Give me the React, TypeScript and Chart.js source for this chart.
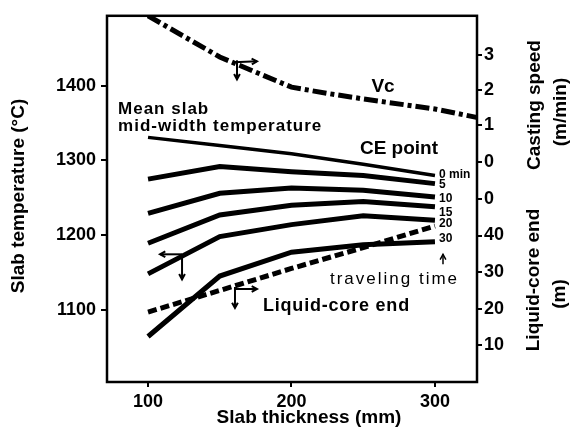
import React, { useEffect, useRef } from "react";
import { Chart, registerables } from "chart.js";

Chart.register(...registerables);

// ---- data ----
const thickness = [100, 150, 200, 250, 300];
const temp0 = [1331, 1320, 1309, 1295, 1280];
const temp5 = [1275, 1292, 1285, 1280, 1269];
const temp10 = [1229, 1256, 1263, 1260, 1251];
const temp15 = [1189, 1227, 1240, 1245, 1238];
const temp20 = [1148, 1198, 1214, 1226, 1220];
const temp30 = [1064, 1145, 1177, 1187, 1191];
const liquidCoreEnd = [19.1, 25, 31, 36.7, 42.6];
const speedThickness = [100, 150, 200, 225, 250, 300, 330];
const castingSpeed = [4.14, 2.95, 2.08, 1.9, 1.74, 1.45, 1.2];

const timeLabels = ["0 min", "5", "10", "15", "20", "30"];
const xTicks = [100, 200, 300];
const tempTicks = [1100, 1200, 1300, 1400];
const lengthTicks = [10, 20, 30, 40, 50, 60];
const lengthTickLabels = ["10", "20", "30", "40", "0", "0"];
const speedTicks = [1, 2, 3];
const speedTickLabels = ["1", "2", "3"];

// ---- axis ranges ----
const X_MIN = 71.4, X_MAX = 329.3;
const T_MIN = 1003, T_MAX = 1494;
const L_MIN = 0, L_MAX = 100;
const S_MIN = -6.43, S_MAX = 4.14;
const speedToLength = (s: number) => L_MIN + ((s - S_MIN) / (S_MAX - S_MIN)) * (L_MAX - L_MIN);

const FONT = "'Liberation Sans', Arial, Helvetica, sans-serif";

const pts = (xs: number[], ys: number[]) => xs.map((x, i) => ({ x, y: ys[i] }));

function arrow(ctx: CanvasRenderingContext2D, x1: number, y1: number, x2: number, y2: number) {
  ctx.beginPath();
  ctx.moveTo(x1, y1);
  ctx.lineTo(x2, y2);
  ctx.stroke();
  const ang = Math.atan2(y2 - y1, x2 - x1);
  const h = 6;
  ctx.beginPath();
  ctx.moveTo(x2 - h * Math.cos(ang - 0.5), y2 - h * Math.sin(ang - 0.5));
  ctx.lineTo(x2, y2);
  ctx.lineTo(x2 - h * Math.cos(ang + 0.5), y2 - h * Math.sin(ang + 0.5));
  ctx.stroke();
}

const decorPlugin = {
  id: "decor",
  afterDraw(chart: any) {
    const { ctx, chartArea: a, scales } = chart;
    const X = scales.x, Y = scales.y;
    const px = (v: number) => X.getPixelForValue(v);
    const py = (v: number) => Y.getPixelForValue(v);
    ctx.save();
    ctx.strokeStyle = "#000";
    ctx.fillStyle = "#000";
    ctx.lineWidth = 2.5;
    ctx.strokeRect(a.left, a.top, a.right - a.left, a.bottom - a.top);

    // in-plot texts
    ctx.textAlign = "left";
    ctx.textBaseline = "alphabetic";
    (ctx as any).letterSpacing = "1px";
    ctx.font = `bold 17px ${FONT}`;
    ctx.fillText("Mean slab", px(79.1), py(1362.6));
    ctx.fillText("mid-width temperature", px(79.1), py(1340));
    (ctx as any).letterSpacing = "0px";
    ctx.font = `bold 19px ${FONT}`;
    ctx.fillText("CE point", px(247.7), py(1308.2));
    ctx.textAlign = "center";
    ctx.textBaseline = "middle";
    ctx.fillText("Vc", px(263.8), py(1398.4));
    ctx.textAlign = "left";
    ctx.textBaseline = "alphabetic";
    (ctx as any).letterSpacing = "0.8px";
    ctx.font = `bold 18px ${FONT}`;
    ctx.fillText("Liquid-core end", px(180.1), py(1098.5));
    (ctx as any).letterSpacing = "2px";
    ctx.font = `17px ${FONT}`;
    ctx.fillText("traveling time", px(226.8), py(1134.4));
    (ctx as any).letterSpacing = "0px";

    // traveling-time labels
    const labelT = [1280.4, 1267, 1249, 1230, 1214.7, 1194.8];
    ctx.textBaseline = "middle";
    ctx.font = `bold 12px ${FONT}`;
    timeLabels.forEach((t, i) => ctx.fillText(t, px(302.8), py(labelT[i])));

    // arrows
    ctx.lineWidth = 2;
    let cx = px(162), cy = py(1431.6);
    arrow(ctx, cx - 3, cy, cx + 20, cy - 1);
    arrow(ctx, cx, cy - 2, cx, cy + 17);
    cx = px(123.7); cy = py(1174.2);
    arrow(ctx, cx, cy, cx - 22, cy);
    arrow(ctx, cx, cy, cx, cy + 25);
    cx = px(160.6); cy = py(1127.7);
    arrow(ctx, cx, cy, cx + 22, cy);
    arrow(ctx, cx, cy - 2, cx, cy + 19);
    ctx.lineWidth = 1.5;
    arrow(ctx, px(305.6), py(1160.9), px(305.6), py(1174.2));

    // axis titles
    ctx.fillStyle = "#000";
    ctx.textAlign = "center";
    ctx.textBaseline = "middle";
    ctx.font = `bold 19px ${FONT}`;
    ctx.fillText("Slab thickness (mm)", 309, 418);

    const vText = (text: string, x: number, y: number, size: number) => {
      ctx.save();
      ctx.translate(x, y);
      ctx.rotate(-Math.PI / 2);
      ctx.font = `bold ${size}px ${FONT}`;
      ctx.fillText(text, 0, 0);
      ctx.restore();
    };
    vText("Slab temperature (°C)", 19, 196, 19);
    vText("Casting speed", 535, 105, 19);
    vText("(m/min)", 561, 112, 19);
    vText("Liquid-core end", 534, 280, 19);
    vText("(m)", 560, 294, 19);
    ctx.restore();
  },
};

export default function App() {
  const ref = useRef<HTMLCanvasElement | null>(null);
  useEffect(() => {
    if (!ref.current) return;
    Chart.defaults.font.family = FONT;
    const solid = (data: number[], w: number) => ({
      data: pts(thickness, data),
      yAxisID: "y",
      borderColor: "#000",
      borderWidth: w,
      pointRadius: 0,
      tension: 0,
      fill: false,
      borderCapStyle: "butt" as const,
      borderJoinStyle: "miter" as const,
    });
    const rightLabels = [...lengthTickLabels, ...speedTickLabels];
    const rightValues = [...lengthTicks, ...speedTicks.map(speedToLength)];
    const tickFont = { size: 18, weight: "bold" as const, family: FONT };
    const chart = new Chart(ref.current, {
      type: "line",
      data: {
        datasets: [
          solid(temp0, 3.5),
          solid(temp5, 5),
          solid(temp10, 5),
          solid(temp15, 5),
          solid(temp20, 5),
          solid(temp30, 5),
          {
            data: pts(thickness, liquidCoreEnd),
            yAxisID: "yL",
            borderColor: "#000",
            borderWidth: 5,
            borderDash: [9, 4],
            pointRadius: 0,
            tension: 0,
            fill: false,
          },
          {
            data: pts(speedThickness, castingSpeed),
            yAxisID: "yS",
            borderColor: "#000",
            borderWidth: 5,
            borderDash: [14, 4, 4, 4],
            pointRadius: 0,
            tension: 0,
            fill: false,
          },
        ],
      },
      options: {
        responsive: false,
        animation: false,
        events: [],
        layout: { padding: { top: 12, left: 0, right: 0, bottom: 0 } },
        plugins: { legend: { display: false }, tooltip: { enabled: false }, title: { display: false } },
        scales: {
          x: {
            type: "linear",
            position: "bottom",
            min: X_MIN,
            max: X_MAX,
            afterBuildTicks: (s: any) => { s.ticks = xTicks.map((v) => ({ value: v })); },
            afterFit: (s: any) => { s.height = 47; },
            border: { display: false },
            grid: { drawOnChartArea: false, drawTicks: true, tickLength: 5, color: "#000", lineWidth: 2 },
            ticks: { color: "#000", font: tickFont, padding: 4, maxRotation: 0, callback: (v: any) => String(v) },
          },
          y: {
            type: "linear",
            position: "left",
            min: T_MIN,
            max: T_MAX,
            afterBuildTicks: (s: any) => { s.ticks = tempTicks.map((v) => ({ value: v })); },
            afterFit: (s: any) => { s.width = 107; },
            border: { display: false },
            grid: { drawOnChartArea: false, drawTicks: true, tickLength: 6, color: "#000", lineWidth: 2 },
            ticks: { color: "#000", font: tickFont, padding: 5, callback: (v: any) => String(v) },
          },
          yL: {
            type: "linear",
            position: "right",
            min: L_MIN,
            max: L_MAX,
            afterBuildTicks: (s: any) => { s.ticks = rightValues.map((v) => ({ value: v })); },
            afterFit: (s: any) => { s.width = 95; },
            border: { display: false },
            grid: { drawOnChartArea: false, drawTicks: true, tickLength: 5, color: "#000", lineWidth: 2 },
            ticks: {
              color: "#000",
              font: tickFont,
              padding: 2,
              callback: (_v: any, i: number) => rightLabels[i],
            },
          },
          yS: {
            type: "linear",
            position: "right",
            display: false,
            min: S_MIN,
            max: S_MAX,
          },
        },
      },
      plugins: [decorPlugin],
    });
    return () => chart.destroy();
  }, []);
  return (
    <div style={{ position: "absolute", left: 0, top: 0, width: 572, height: 429, background: "#fff" }}>
      <canvas ref={ref} width={572} height={429} style={{ display: "block" }} />
    </div>
  );
}
